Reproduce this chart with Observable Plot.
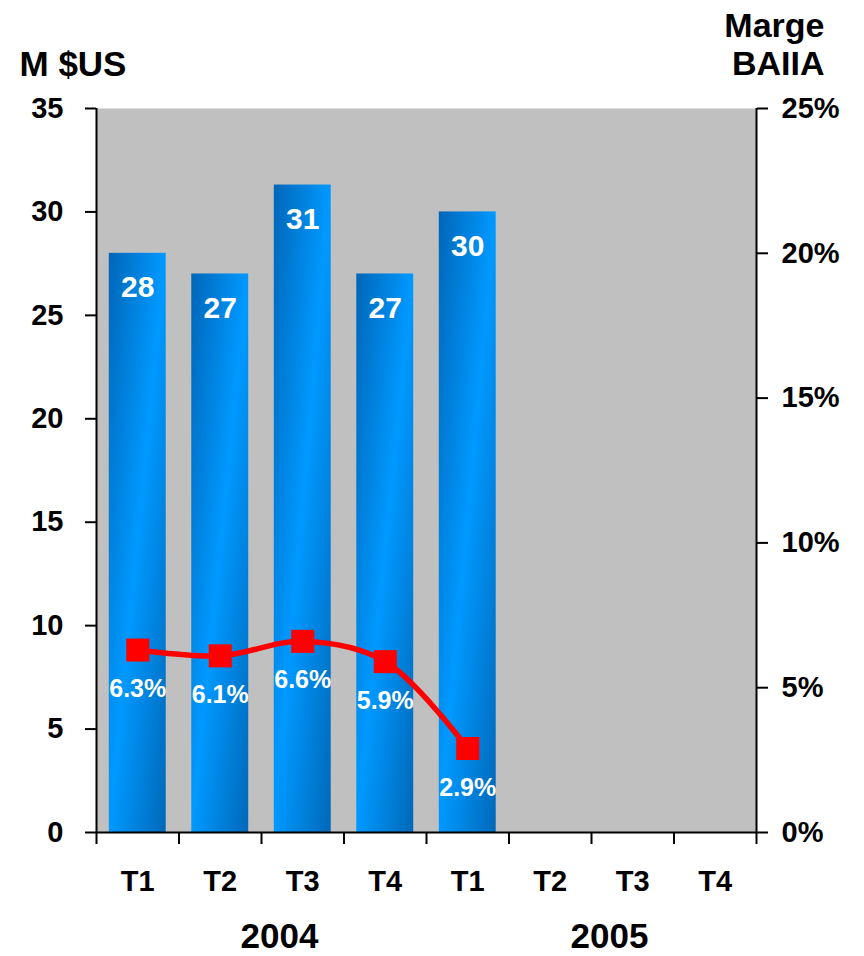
<!DOCTYPE html>
<html>
<head>
<meta charset="utf-8">
<script src="https://cdn.jsdelivr.net/npm/d3@7"></script>
<script src="https://cdn.jsdelivr.net/npm/@observablehq/plot@0.6"></script>
<style>
  body { margin: 0; background: #ffffff; }
  #chart svg { display: block; }
</style>
</head>
<body>
<div id="chart"></div>
<script>
// ---- data ----
const quarters = ["T1", "T2", "T3", "T4", "T1", "T2", "T3", "T4"];
const years = ["2004", "2005"];
const revenue = [28, 27, 31.3, 27, 30];          // M $US (bars)
const revenueLabels = ["28", "27", "31", "27", "30"];
const margin = [6.3, 6.1, 6.6, 5.9, 2.9];         // Marge BAIIA (%)
const leftTicks = [0, 5, 10, 15, 20, 25, 30, 35];
const rightTicks = [0, 5, 10, 15, 20, 25];        // %

const Y_MAX = 35, PCT_MAX = 25;
const toY = p => p * Y_MAX / PCT_MAX;

const bars = revenue.map((v, i) => ({i, v, label: revenueLabels[i]}));
const pts = margin.map((p, i) => ({i, p}));
const yearRows = years.map((y, k) => ({y, center: k * 4 + 2}));

const font = "'Liberation Sans', Arial, Helvetica, sans-serif";
const halfBar = 0.345;

const chart = Plot.plot({
  width: 864,
  height: 956,
  marginLeft: 96,
  marginRight: 108,
  marginTop: 108,
  marginBottom: 124,
  style: {fontFamily: font, fontWeight: "bold", fontSize: "29px", color: "#000", background: "#fff"},
  x: {domain: [0, quarters.length], axis: null},
  y: {domain: [0, Y_MAX], axis: null},
  marks: [
    Plot.frame({fill: "#c0c0c0", stroke: null}),
    // bars
    Plot.rectY(bars, {x1: d => d.i + 0.5 - halfBar, x2: d => d.i + 0.5 + halfBar, y1: 0, y2: "v", fill: "url(#barGrad)"}),
    Plot.text(bars, {x: d => d.i + 0.5, y: "v", text: "label", dy: 34, lineAnchor: "middle", fill: "white", fontSize: 30, fontWeight: "bold"}),
    // axes lines
    Plot.ruleX([0], {stroke: "black", strokeWidth: 2}),
    Plot.ruleX([quarters.length], {stroke: "black", strokeWidth: 2}),
    Plot.ruleY([0], {stroke: "black", strokeWidth: 2}),
    // left axis
    Plot.axisY({anchor: "left", ticks: leftTicks, tickSize: 11, tickPadding: 22, strokeWidth: 2, label: null, fontSize: 29, fontWeight: "bold"}),
    // right axis (percent mapped onto the same scale)
    Plot.axisY({anchor: "right", ticks: rightTicks.map(toY), tickFormat: d => Math.round(d * PCT_MAX / Y_MAX) + "%", tickSize: 11, tickPadding: 14, strokeWidth: 2, label: null, fontSize: 29, fontWeight: "bold"}),
    // bottom boundary ticks
    Plot.axisX({anchor: "bottom", ticks: d3.range(quarters.length + 1), tickFormat: () => "", tickSize: 12, strokeWidth: 2, label: null}),
    // quarter labels
    Plot.axisX({anchor: "bottom", ticks: quarters.map((q, i) => i + 0.5), tickFormat: d => quarters[Math.floor(d)], tickSize: 0, tickPadding: 38, label: null, fontSize: 29, fontWeight: "bold"}),
    // year labels
    Plot.text(yearRows, {x: "center", text: "y", frameAnchor: "bottom", dy: 104, dx: 18, lineAnchor: "middle", fontSize: 35, fontWeight: "bold", fill: "black"}),
    // margin line
    Plot.line(pts, {x: d => d.i + 0.5, y: d => toY(d.p), stroke: "#ff0000", strokeWidth: 5.5, curve: "catmull-rom"}),
    Plot.dot(pts, {x: d => d.i + 0.5, y: d => toY(d.p), symbol: "square", r: 13, fill: "#ff0000", stroke: null}),
    Plot.text(pts, {x: d => d.i + 0.5, y: d => toY(d.p), text: d => d.p.toFixed(1) + "%", dy: 39, lineAnchor: "middle", fill: "white", fontSize: 25, fontWeight: "bold"}),
    // axis titles
    Plot.text(["M $US"], {frameAnchor: "top-left", dx: -77, dy: -44, textAnchor: "start", lineAnchor: "middle", fontSize: 35, fontWeight: "bold", fill: "black"}),
    Plot.text(["Marge\nBAIIA"], {frameAnchor: "top-right", dx: 68, dy: -65, textAnchor: "end", lineAnchor: "middle", lineHeight: 1.12, fontSize: 34, fontWeight: "bold", fill: "black"})
  ]
});

// gradient definition for the bars
const NS = "http://www.w3.org/2000/svg";
const defs = document.createElementNS(NS, "defs");
const grad = document.createElementNS(NS, "linearGradient");
grad.setAttribute("id", "barGrad");
grad.setAttribute("x1", "0"); grad.setAttribute("y1", "0");
grad.setAttribute("x2", "1"); grad.setAttribute("y2", "1");
[["0", "#0066b8"], ["0.5", "#0099ff"], ["1", "#0068b8"]].forEach(([o, c]) => {
  const s = document.createElementNS(NS, "stop");
  s.setAttribute("offset", o);
  s.setAttribute("stop-color", c);
  grad.appendChild(s);
});
defs.appendChild(grad);
chart.insertBefore(defs, chart.firstChild);

document.getElementById("chart").appendChild(chart);
</script>
</body>
</html>
